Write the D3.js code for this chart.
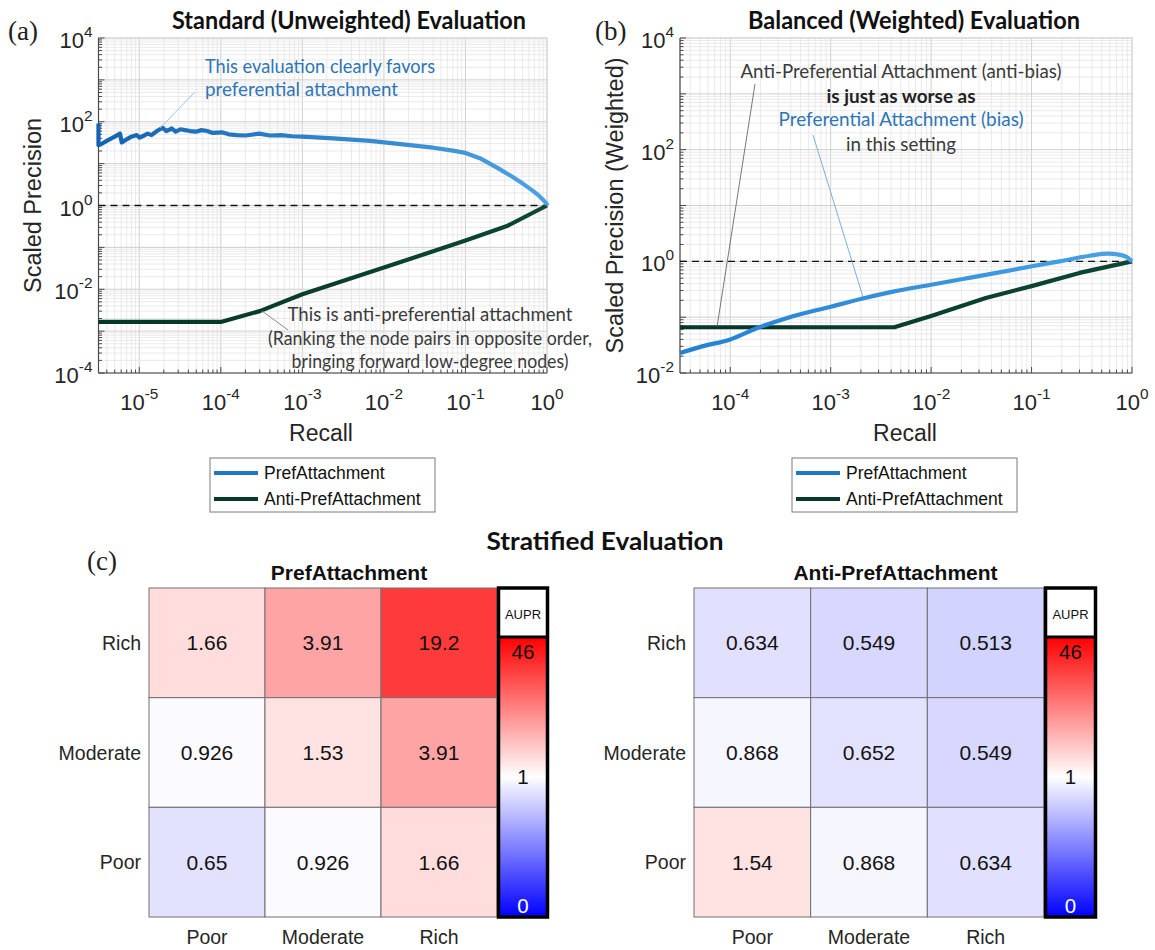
<!DOCTYPE html>
<html><head><meta charset="utf-8">
<script src="https://cdn.jsdelivr.net/npm/d3@7"></script>
<style>body{margin:0;background:#fff}</style>
</head><body>
<svg id="c" width="1155" height="950"></svg>
<script>
// ---------- DATA ----------
const prefA_recall = [3.16e-6,3.16e-6,3.6e-6,4.2e-6,5.0e-6,5.8e-6,6.1e-6,7.0e-6,8.0e-6,9.3e-6,1.01e-5,1.15e-5,1.27e-5,1.41e-5,1.65e-5,1.93e-5,2.15e-5,2.51e-5,2.79e-5,3.2e-5,3.63e-5,4.2e-5,4.95e-5,5.8e-5,6.8e-5,8.0e-5,1.03e-4,1.25e-4,1.58e-4,2.0e-4,2.95e-4,4.0e-4,5.5e-4,7.5e-4,1e-3,2.4e-3,6.8e-3,0.0195,0.04,0.07,0.1,0.15,0.25,0.38,0.52,0.66,0.79,0.9,0.97,1.0,1.0];
const prefA_prec   = [91,27.5,31,37,44,52,32,38,44,48,42,47,52,48,60,72,60,69,58,66,63,60,58,63,60,54,56,50,48,47,52,47,48,45,44,40,35,28,24,20.5,18,13.5,7.8,4.8,3.2,2.3,1.74,1.35,1.15,1.05,1.0];
const antiA_recall = [3.16e-6,1e-4,3e-4,1e-3,1e-2,0.1,0.33,1];
const antiA_prec   = [1.66e-3,1.66e-3,3.0e-3,7.6e-3,0.033,0.145,0.33,1];
const prefB_recall = [3.16e-5,5.25e-5,1e-4,1.86e-4,3.7e-4,1.02e-3,2.19e-3,4.3e-3,0.01,0.0232,0.054,0.098,0.19,0.38,0.575,0.74,0.88,1];
const prefB_prec   = [0.0229,0.030,0.040,0.064,0.097,0.155,0.22,0.29,0.38,0.50,0.66,0.81,1.0,1.26,1.37,1.32,1.2,1.0];
const antiB_recall = [3.16e-5,4.3e-3,0.01,0.035,0.1,0.3,1];
const antiB_prec   = [0.066,0.066,0.105,0.22,0.36,0.62,1];

const xTicksA = [1e-5,1e-4,1e-3,1e-2,1e-1,1];
const xTickExpA = ["-5","-4","-3","-2","-1","0"];
const yTicksA = [1e-4,1e-2,1,1e2,1e4];
const yTickExpA = ["-4","-2","0","2","4"];
const xTicksB = [1e-4,1e-3,1e-2,1e-1,1];
const xTickExpB = ["-4","-3","-2","-1","0"];
const yTicksB = [1e-2,1,1e2,1e4];
const yTickExpB = ["-2","0","2","4"];

const seriesNames = ["PrefAttachment","Anti-PrefAttachment"];
const strata = ["Poor","Moderate","Rich"];          // columns, left->right
const rowStrata = ["Rich","Moderate","Poor"];       // rows, top->bottom
const prefMatrix = [[1.66,3.91,19.2],[0.926,1.53,3.91],[0.65,0.926,1.66]];
const antiMatrix = [[0.634,0.549,0.513],[0.868,0.652,0.549],[1.54,0.868,0.634]];
const cbarMax = 46, cbarMid = 1;
const cbarLabels = ["46","1","0"];

// ---------- SETUP ----------
const svg = d3.select("#c");
const AX = "Liberation Sans, Arial, sans-serif";
const CAL = "Lato, 'Open Sans', sans-serif";
const BLUE = "#1f77c4", DARK = "#06392b";
const defs = svg.append("defs");

function gradient(id, x1, x2, c1, c2){
  const g = defs.append("linearGradient").attr("id",id).attr("gradientUnits","userSpaceOnUse")
    .attr("x1",x1).attr("x2",x2).attr("y1",0).attr("y2",0);
  g.append("stop").attr("offset","0%").attr("stop-color",c1);
  g.append("stop").attr("offset","100%").attr("stop-color",c2);
}

function logValues(lo, hi){
  const out=[];
  for(let d=Math.floor(Math.log10(lo)); d<=Math.ceil(Math.log10(hi)); d++){
    for(let k=1;k<=9;k++){ const v=k*Math.pow(10,d); if(v>=lo*0.9999 && v<=hi*1.0001) out.push({v, major:k===1}); }
  }
  return out;
}

function supText(sel, x, y, base, exp, anchor, fs){
  const t = sel.append("text").attr("x",x).attr("y",y).attr("text-anchor",anchor)
    .attr("font-family",AX).attr("font-size",fs).attr("fill","#262626");
  t.append("tspan").text(base);
  t.append("tspan").attr("dy",-fs*0.5).attr("font-size",fs*0.7).text(exp);
  return t;
}

function panel(cfg){
  const g = svg.append("g");
  const x = d3.scaleLog().domain(cfg.xd).range([cfg.l,cfg.r]);
  const y = d3.scaleLog().domain(cfg.yd).range([cfg.b,cfg.t]);
  const gx = logValues(cfg.xd[0],cfg.xd[1]), gy = logValues(cfg.yd[0],cfg.yd[1]);
  g.selectAll(".gx").data(gx).enter().append("line")
    .attr("x1",d=>x(d.v)).attr("x2",d=>x(d.v)).attr("y1",cfg.t).attr("y2",cfg.b)
    .attr("stroke",d=>d.major?"#cfcfcf":"#e4e4e4").attr("stroke-width",d=>d.major?1:0.8);
  g.selectAll(".gy").data(gy).enter().append("line")
    .attr("y1",d=>y(d.v)).attr("y2",d=>y(d.v)).attr("x1",cfg.l).attr("x2",cfg.r)
    .attr("stroke",d=>d.major?"#cfcfcf":"#e4e4e4").attr("stroke-width",d=>d.major?1:0.8);
  g.append("rect").attr("x",cfg.l).attr("y",cfg.t).attr("width",cfg.r-cfg.l).attr("height",cfg.b-cfg.t)
    .attr("fill","none").attr("stroke","#d8d8d8");
  g.append("line").attr("x1",cfg.l).attr("x2",cfg.l).attr("y1",cfg.t).attr("y2",cfg.b).attr("stroke","#4a4a4a").attr("stroke-width",1.2);
  g.append("line").attr("x1",cfg.l).attr("x2",cfg.r).attr("y1",cfg.b).attr("y2",cfg.b).attr("stroke","#4a4a4a").attr("stroke-width",1.2);
  g.selectAll(".tx").data(gx).enter().append("line")
    .attr("x1",d=>x(d.v)).attr("x2",d=>x(d.v)).attr("y1",cfg.b).attr("y2",d=>cfg.b-(d.major?6:3.5))
    .attr("stroke","#4a4a4a").attr("stroke-width",1);
  g.selectAll(".ty").data(gy).enter().append("line")
    .attr("y1",d=>y(d.v)).attr("y2",d=>y(d.v)).attr("x1",cfg.l).attr("x2",d=>cfg.l+(d.major?6:3.5))
    .attr("stroke","#4a4a4a").attr("stroke-width",1);
  cfg.xt.forEach((v,i)=>supText(g, x(v), cfg.b+37, "10", cfg.xe[i], "middle", 22));
  cfg.yt.forEach((v,i)=>supText(g, cfg.l-6, y(v)+10, "10", cfg.ye[i], "end", 22));
  g.append("line").attr("x1",cfg.l).attr("x2",cfg.r).attr("y1",y(1)).attr("y2",y(1))
    .attr("stroke","#111").attr("stroke-width",1.3).attr("stroke-dasharray","7,5");
  const line = d3.line().x(d=>x(d[0])).y(d=>y(d[1]));
  const smooth = d3.line().x(d=>x(d[0])).y(d=>y(d[1])).curve(d3.curveMonotoneX);
  g.append("path").datum(d3.zip(cfg.antiX,cfg.antiY)).attr("d",line)
    .attr("fill","none").attr("stroke","url(#"+cfg.darkGrad+")").attr("stroke-width",4.2).attr("stroke-linejoin","round");
  g.append("path").datum(d3.zip(cfg.prefX,cfg.prefY)).attr("d",cfg.smoothPref?smooth:line)
    .attr("fill","none").attr("stroke","url(#"+cfg.blueGrad+")").attr("stroke-width",4.2).attr("stroke-linejoin","round");
  g.append("text").attr("x",cfg.xlx).attr("y",441).attr("text-anchor","middle")
    .attr("font-family",AX).attr("font-size",23).attr("fill","#262626").text("Recall");
  g.append("text").attr("transform",`translate(${cfg.ylx},${(cfg.t+cfg.b)/2}) rotate(-90)`).attr("dy","0.35em")
    .attr("text-anchor","middle").attr("font-family",AX).attr("font-size",23.5).attr("fill","#262626").text(cfg.ylabel);
  const lg = g.append("g");
  lg.append("rect").attr("x",cfg.lgx).attr("y",458).attr("width",225).attr("height",54)
    .attr("fill","#fff").attr("stroke","#7a7a7a").attr("stroke-width",1);
  [[BLUE,473],[DARK,499]].forEach((c,i)=>{
    lg.append("line").attr("x1",cfg.lgx+4).attr("x2",cfg.lgx+48).attr("y1",c[1]).attr("y2",c[1])
      .attr("stroke",c[0]).attr("stroke-width",4.2);
    lg.append("text").attr("x",cfg.lgx+54).attr("y",c[1]+6).attr("font-family",AX).attr("font-size",17.5)
      .attr("fill","#111").text(seriesNames[i]);
  });
  return {g,x,y};
}

gradient("blueA",98,547,"#1462b2","#4da3e2");
gradient("darkA",98,547,"#053628","#0d4636");
gradient("blueB",680,1132,"#2381d2","#4aa2e2");
gradient("darkB",680,1132,"#053628","#0d4636");

panel({l:98.5,r:547,t:38,b:373,xd:[Math.pow(10,-5.5),1],yd:[1e-4,1e4],
  xt:xTicksA,xe:xTickExpA,yt:yTicksA,ye:yTickExpA,prefX:prefA_recall,prefY:prefA_prec,antiX:antiA_recall,antiY:antiA_prec,
  blueGrad:"blueA",darkGrad:"darkA",xlx:321,ylx:33,ylabel:"Scaled Precision",lgx:210,smoothPref:false});
panel({l:680,r:1132,t:38,b:373,xd:[Math.pow(10,-4.5),1],yd:[1e-2,1e4],
  xt:xTicksB,xe:xTickExpB,yt:yTicksB,ye:yTickExpB,prefX:prefB_recall,prefY:prefB_prec,antiX:antiB_recall,antiY:antiB_prec,
  blueGrad:"blueB",darkGrad:"darkB",xlx:905,ylx:615,ylabel:"Scaled Precision (Weighted)",lgx:792,smoothPref:true});

// ---------- TEXT HELPERS ----------
function txt(x,y,s,o){
  o=o||{};
  const t = svg.append("text").attr("x",x).attr("y",y).attr("text-anchor",o.anchor||"start")
    .attr("font-family",o.font||CAL).attr("font-size",o.fs||19).attr("font-weight",o.fw||"normal")
    .attr("fill",o.fill||"#111").text(s);
  if(o.w){ t.attr("textLength",o.w).attr("lengthAdjust","spacingAndGlyphs"); }
  return t;
}
const SERIF = "Liberation Serif, 'DejaVu Serif', serif";

txt(349,29,"Standard (Unweighted) Evaluation",{anchor:"middle",fs:24,fw:"bold",w:354});
txt(914,29,"Balanced (Weighted) Evaluation",{anchor:"middle",fs:24,fw:"bold",w:332});
txt(8,40,"(a)",{font:SERIF,fs:27,fill:"#222"});
txt(595,40,"(b)",{font:SERIF,fs:27,fill:"#222"});
txt(87,570,"(c)",{font:SERIF,fs:27,fill:"#222"});
txt(605,550,"Stratified Evaluation",{anchor:"middle",fs:25,fw:"bold",w:237});

const ANB = "#2e75b6", ANK = "#3a3a3a";
svg.append("line").attr("x1",195).attr("y1",92).attr("x2",160).attr("y2",128).attr("stroke","#9cc2e6").attr("stroke-width",1);
txt(205,73,"This evaluation clearly favors",{fs:19.5,fill:ANB,w:230});
txt(205,96,"preferential attachment",{fs:19.5,fill:ANB,w:193});
svg.append("line").attr("x1",262).attr("y1",311).attr("x2",288).attr("y2",330).attr("stroke","#8a8a8a").attr("stroke-width",1);
txt(430,321,"This is anti-preferential attachment",{anchor:"middle",fs:19.5,fill:ANK,w:285});
txt(430,345,"(Ranking the node pairs in opposite order,",{anchor:"middle",fs:19.5,fill:ANK,w:324});
txt(430,368,"bringing forward low-degree nodes)",{anchor:"middle",fs:19.5,fill:ANK,w:277});

svg.append("line").attr("x1",755).attr("y1",84).attr("x2",717).attr("y2",327).attr("stroke","#555").attr("stroke-width",0.8);
svg.append("line").attr("x1",813).attr("y1",135).attr("x2",863).attr("y2",297).attr("stroke","#5b9bd5").attr("stroke-width",0.8);
txt(901,78,"Anti-Preferential Attachment (anti-bias)",{anchor:"middle",fs:19.5,fill:ANK,w:321});
txt(901,103,"is just as worse as",{anchor:"middle",fs:19.5,fw:"bold",fill:"#222",w:149});
txt(901,126,"Preferential Attachment (bias)",{anchor:"middle",fs:19.5,fill:ANB,w:245});
txt(901,151,"in this setting",{anchor:"middle",fs:19.5,fill:ANK,w:110});

// ---------- HEATMAPS ----------
const half = t => t<0.5 ? d3.interpolateRgb("#0000ff","#ffffff")(t*2) : d3.interpolateRgb("#ffffff","#ff0000")((t-0.5)*2);
const color = d3.scaleDivergingLog().domain([1/cbarMax,cbarMid,cbarMax]).interpolator(half);
const cg = defs.append("linearGradient").attr("id","cbar").attr("x1",0).attr("x2",0).attr("y1",0).attr("y2",1);
d3.range(0,1.0001,0.05).forEach(t=>cg.append("stop").attr("offset",t).attr("stop-color",half(1-t)));

function heatmap(cfg){
  const g = svg.append("g");
  const xb = d3.scaleBand().domain(strata).range([cfg.l,cfg.r]);
  const yb = d3.scaleBand().domain(rowStrata).range([588,917]);
  rowStrata.forEach((rn,i)=>strata.forEach((cn,j)=>{
    const v = cfg.m[i][j];
    g.append("rect").attr("x",xb(cn)).attr("y",yb(rn)).attr("width",xb.bandwidth()).attr("height",yb.bandwidth())
      .attr("fill",color(v)).attr("stroke","#707070").attr("stroke-width",1);
    g.append("text").attr("x",xb(cn)+xb.bandwidth()/2).attr("y",yb(rn)+yb.bandwidth()/2+7.5).attr("text-anchor","middle")
      .attr("font-family",AX).attr("font-size",21).attr("fill","#111").text(String(v));
  }));
  strata.forEach(cn=>g.append("text").attr("x",xb(cn)+xb.bandwidth()/2).attr("y",944).attr("text-anchor","middle")
    .attr("font-family",AX).attr("font-size",19.5).attr("fill","#262626").text(cn));
  rowStrata.forEach(rn=>g.append("text").attr("x",cfg.l-8).attr("y",yb(rn)+yb.bandwidth()/2+7).attr("text-anchor","end")
    .attr("font-family",AX).attr("font-size",19.5).attr("fill","#262626").text(rn));
  g.append("text").attr("x",(cfg.l+cfg.cr)/2).attr("y",580).attr("text-anchor","middle")
    .attr("font-family",AX).attr("font-size",21).attr("font-weight","bold").attr("fill","#111").text(cfg.title);
  const cl = cfg.r, cr = cfg.cr;
  g.append("rect").attr("x",cl).attr("y",588).attr("width",cr-cl).attr("height",49).attr("fill","#fff");
  g.append("rect").attr("x",cl).attr("y",637).attr("width",cr-cl).attr("height",280).attr("fill","url(#cbar)");
  g.append("line").attr("x1",cl).attr("x2",cr).attr("y1",637).attr("y2",637).attr("stroke","#000").attr("stroke-width",3);
  g.append("rect").attr("x",cl+1.5).attr("y",588).attr("width",cr-cl-3).attr("height",329)
    .attr("fill","none").attr("stroke","#000").attr("stroke-width",3.5);
  g.append("text").attr("x",(cl+cr)/2).attr("y",619).attr("text-anchor","middle")
    .attr("font-family",AX).attr("font-size",13).attr("fill","#111").text("AUPR");
  const cy = d3.scaleLog().domain([1/cbarMax,cbarMax]).range([917,637]);
  const lv = [cbarMax, cbarMid, 1/cbarMax], off=[22,7,-4];
  lv.forEach((v,i)=>g.append("text").attr("x",(cl+cr)/2).attr("y",cy(v)+off[i]).attr("text-anchor","middle")
    .attr("font-family",AX).attr("font-size",20.5).attr("fill",i===2?"#fff":"#111").text(cbarLabels[i]));
}
heatmap({l:149,r:497,cr:549,m:prefMatrix,title:"PrefAttachment"});
heatmap({l:694,r:1044,cr:1097,m:antiMatrix,title:"Anti-PrefAttachment"});
</script>
</body></html>
